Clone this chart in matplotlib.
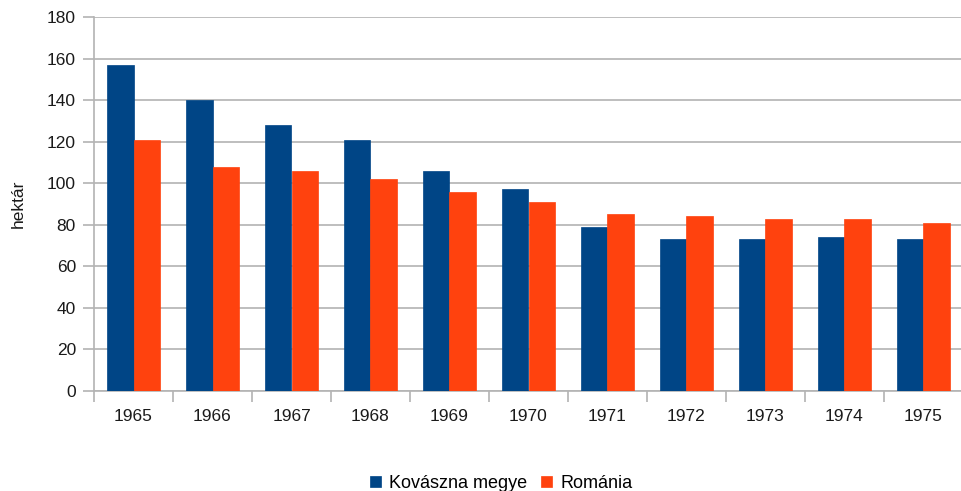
import numpy as np
import matplotlib
matplotlib.use('Agg')
from matplotlib import pyplot as plt
from matplotlib.ticker import FixedLocator

plt.rcParams['font.family'] = ['Liberation Sans', 'DejaVu Sans']

years = ['1965', '1966', '1967', '1968', '1969', '1970', '1971', '1972', '1973', '1974', '1975']
kovaszna = [157, 140, 128, 121, 106, 97, 79, 73, 73, 74, 73]
romania = [121, 108, 106, 102, 96, 91, 85, 84, 83, 83, 81]
series_names = ['Kovászna megye', 'Románia']

blue = '#004586'
orange = '#ff420e'
grid_col = '#b3b3b3'
txt = '#1a1a1a'

fig = plt.figure(figsize=(9.62, 4.91), dpi=100)
ax = fig.add_axes([94/962, 1 - 391/491, 869/962, 374/491])

x = np.arange(len(years))
w = 0.335
# thin edge in the same colour hides the antialiasing seam between the two bars
ax.bar(x - w/2, kovaszna, width=w, color=blue, edgecolor=blue, linewidth=0.5,
       label=series_names[0], zorder=3)
ax.bar(x + w/2, romania, width=w, color=orange, edgecolor=orange, linewidth=0.5,
       label=series_names[1], zorder=3)

ax.set_xlim(-0.5, len(years) - 0.5)
ax.set_ylim(0, 180)
ax.set_yticks(np.arange(0, 181, 20))
ax.yaxis.grid(True, color=grid_col, linewidth=1.2, zorder=0)

ax.set_xticks(x)
ax.set_xticklabels(years)
ax.xaxis.set_minor_locator(FixedLocator(np.arange(-0.5, len(years), 1.0)))
ax.tick_params(axis='x', which='major', length=0, pad=13, labelsize=12.5, colors=txt)
ax.tick_params(axis='x', which='minor', length=8, width=1.2, color=grid_col, direction='out')
ax.tick_params(axis='y', length=8, width=1.2, color=grid_col, direction='out', labelsize=12.5,
               labelcolor=txt, pad=5)

for s in ['top', 'right']:
    ax.spines[s].set_visible(False)
for s in ['left', 'bottom']:
    ax.spines[s].set_color(grid_col)
    ax.spines[s].set_linewidth(1.2)

ax.set_ylabel('hektár', fontsize=12.5, color=txt)
ax.yaxis.set_label_coords(-0.078, 0.5)

fig.legend(loc='lower center', bbox_to_anchor=(501/962, -0.035), ncol=2, frameon=False,
           fontsize=13, handlelength=0.6, handleheight=0.6, handletextpad=0.45,
           columnspacing=0.8)

fig.savefig('out.png', dpi=100)
